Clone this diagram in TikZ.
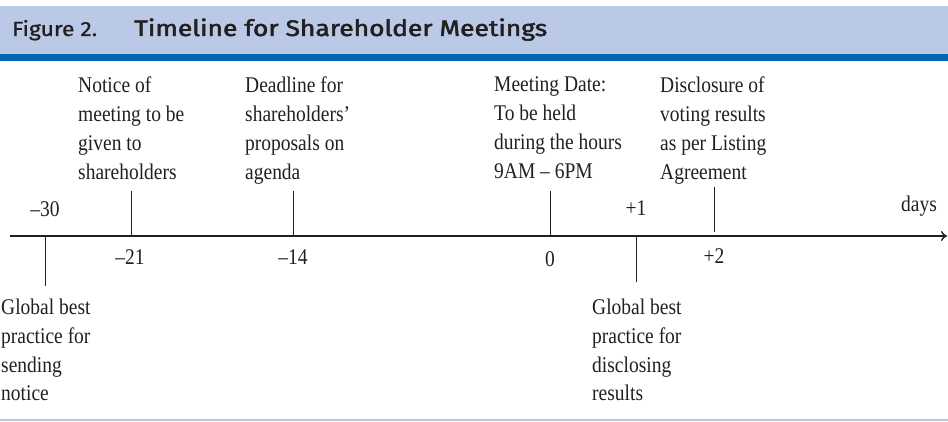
\documentclass[tikz,border=0pt]{standalone}
\usepackage{fontspec}
\usepackage{graphicx}
\usetikzlibrary{arrows.meta}
\setmainfont{Liberation Serif}[FakeStretch=0.87]
\newfontfamily\headfont{Fira Sans}[FakeBold=0.8]
\newfontfamily\headtitle{Fira Sans}[FakeBold=2]
\definecolor{bandlight}{HTML}{B9C9E6}
\definecolor{banddark}{HTML}{0068B3}
\definecolor{inkc}{HTML}{231F20}
\definecolor{rulec}{HTML}{B8C8DE}
\begin{document}
\begin{tikzpicture}[x=1pt,y=-1pt,
  lbl/.style={font=\fontsize{22.4}{28.8}\selectfont, text=inkc, align=left, inner sep=0pt, anchor=north west},
  num/.style={font=\fontsize{22.4}{26}\selectfont, text=inkc, inner sep=0pt, anchor=base},
  tick/.style={draw=inkc, line width=1pt},
  axisline/.style={draw=inkc, line width=1.4pt, -{To[length=6pt,width=10pt]}}]
\useasboundingbox (0,0) rectangle (948,422);
% header
\fill[bandlight] (0,6) rectangle (948,54);
\fill[banddark] (0,54) rectangle (948,61);
\node[inner sep=0pt, anchor=base west, text=inkc] (fig) at (12,36)
  {\resizebox{85pt}{\height}{\headfont\fontsize{20.5}{24}\selectfont Figure 2.}};
\node[inner sep=0pt, anchor=base west, text=inkc] (title) at (134,36)
  {\resizebox{413pt}{\height}{\headtitle\fontsize{22.5}{26}\selectfont Timeline for Shareholder Meetings}};
% bottom rule
\draw[rulec, line width=1.2pt] (0,420) -- (948,420);
% axis
\coordinate (axL) at (10,236);
\coordinate (axR) at (947,236);
\draw[axisline] (axL) -- (axR);
% ticks
\coordinate (m30a) at (45,236); \coordinate (m30b) at (45,286);
\coordinate (m21a) at (131,236); \coordinate (m21b) at (131,191);
\coordinate (m14a) at (293,236); \coordinate (m14b) at (293,191);
\coordinate (z0a) at (550,236); \coordinate (z0b) at (550,191);
\coordinate (p1a) at (636,236); \coordinate (p1b) at (636,282);
\coordinate (p2a) at (714,232); \coordinate (p2b) at (714,187);
\draw[tick] (m30a) -- (m30b);
\draw[tick] (m21a) -- (m21b);
\draw[tick] (m14a) -- (m14b);
\draw[tick] (z0a) -- (z0b);
\draw[tick] (p1a) -- (p1b);
\draw[tick] (p2a) -- (p2b);
% numbers
\node[num] (n30) at (45,217) {–30};
\node[num] (n21) at (130,265) {–21};
\node[num] (n14) at (293,265) {–14};
\node[num] (n0) at (550,266) {0};
\node[num] (n1) at (636,216) {+1};
\node[num] (n2) at (714,264) {+2};
\node[num] (days) at (919,212) {days};
% top labels
\node[lbl] (notice) at (78,76.8) {Notice of\\meeting to be\\given to\\shareholders};
\node[lbl] (deadline) at (245,76.8) {Deadline for\\shareholders’\\proposals on\\agenda};
\node[lbl] (meeting) at (494,76.8) {Meeting Date:\\To be held\\during the hours\\9AM – 6PM};
\node[lbl] (disclose) at (660,76.8) {Disclosure of\\voting results\\as per Listing\\Agreement};
% bottom labels
\node[lbl] (gbp1) at (1,298.8) {Global best\\practice for\\sending\\notice};
\node[lbl] (gbp2) at (592,298.8) {Global best\\practice for\\disclosing\\results};
\end{tikzpicture}
\end{document}
